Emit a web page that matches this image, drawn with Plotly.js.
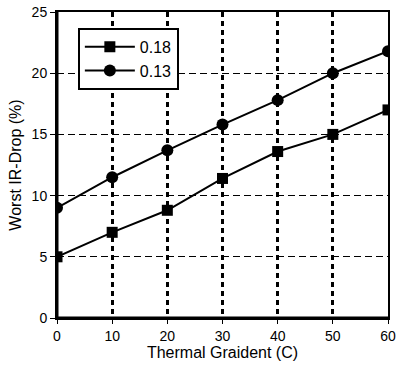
<!DOCTYPE html>
<html><head><meta charset="utf-8">
<script src="https://cdn.plot.ly/plotly-3.0.1.min.js"></script>
<style>body{margin:0;background:#fff}#c{width:396px;height:372px}</style>
</head><body><div id="c"></div>
<script>
const thermalGradient = [0, 10, 20, 30, 40, 50, 60];
const drop018 = [5.0, 7.0, 8.8, 11.4, 13.6, 15.0, 17.0];
const drop013 = [9.0, 11.5, 13.7, 15.8, 17.8, 20.0, 21.8];
const seriesNames = ['0.18', '0.13'];

const font = {family: 'Liberation Sans, Arial, sans-serif', color: '#000'};
const traces = [
  {x: thermalGradient, y: drop018, name: seriesNames[0], mode: 'lines+markers',
   line: {color: '#000', width: 2}, marker: {symbol: 'square', size: 11, color: '#000'}},
  {x: thermalGradient, y: drop013, name: seriesNames[1], mode: 'lines+markers',
   line: {color: '#000', width: 2}, marker: {symbol: 'circle', size: 12, color: '#000'}}
];
const layout = {
  width: 396, height: 372,
  margin: {l: 57, r: 8, t: 12, b: 54},
  paper_bgcolor: '#fff', plot_bgcolor: '#fff',
  font: Object.assign({size: 14}, font),
  showlegend: true,
  legend: {x: 0.063, y: 0.948, xanchor: 'left', yanchor: 'top',
    bordercolor: '#000', borderwidth: 2, bgcolor: '#fff', itemwidth: 50,
    font: Object.assign({size: 16}, font), tracegroupgap: 0},
  xaxis: {range: [0, 60], tickvals: thermalGradient, ticks: 'outside', ticklen: 4,
    tickwidth: 1, tickcolor: '#000', showline: true, mirror: true, linecolor: '#000', linewidth: 2,
    showgrid: true, gridcolor: '#000', gridwidth: 3, griddash: '5px,4px', zeroline: false,
    tickfont: Object.assign({size: 14}, font),
    title: {text: 'Thermal Graident (C)', font: Object.assign({size: 16}, font), standoff: 3}},
  yaxis: {range: [0, 25], dtick: 5, ticks: 'outside', ticklen: 5, tickwidth: 1, tickcolor: '#000',
    showline: true, mirror: true, linecolor: '#000', linewidth: 2,
    showgrid: true, gridcolor: '#000', gridwidth: 1, griddash: '7px,4px', zeroline: false,
    tickfont: Object.assign({size: 14}, font),
    title: {text: 'Worst IR-Drop (%)', font: Object.assign({size: 16}, font), standoff: 6}},
  shapes: [
    {type: 'line', xref: 'paper', yref: 'paper', x0: 0, x1: 0, y0: 0, y1: 1, line: {color: '#000', width: 3}},
    {type: 'line', xref: 'paper', yref: 'paper', x0: 0, x1: 1, y0: 0, y1: 0, line: {color: '#000', width: 3}}
  ]
};
Plotly.newPlot('c', traces, layout, {displayModeBar: false, staticPlot: true});
</script></body></html>
